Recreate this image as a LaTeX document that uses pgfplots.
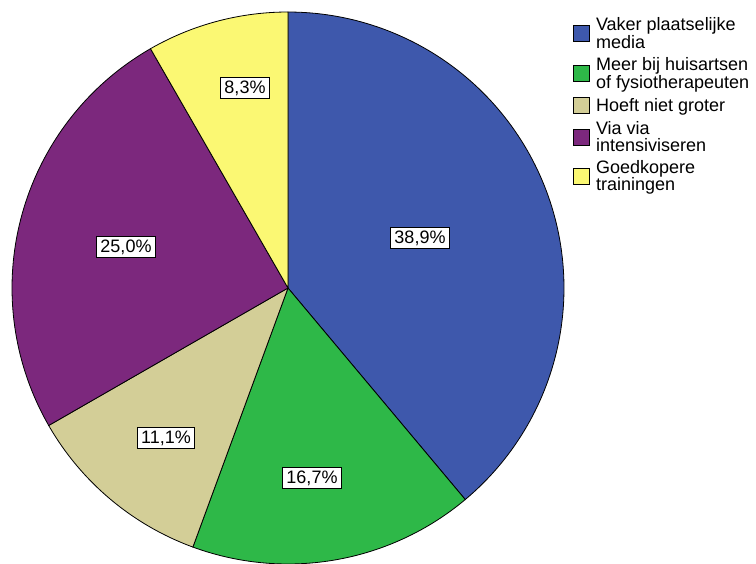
\documentclass[border=0pt]{standalone}
\usepackage{fontspec}
\setmainfont{Liberation Sans}
\usepackage{pgfplots}
\pgfplotsset{compat=1.18}
\definecolor{cBlue}{HTML}{3E58AC}
\definecolor{cGreen}{HTML}{2EB848}
\definecolor{cBeige}{HTML}{D3CE97}
\definecolor{cPurple}{HTML}{7C287D}
\definecolor{cYellow}{HTML}{FBF873}
\begin{document}
\begin{tikzpicture}
\begin{axis}[
  scale only axis, width=756pt, height=563pt,
  xmin=0, xmax=756, ymin=0, ymax=563,
  hide axis, clip=false,
  legend style={at={(axis description cs:0.758,0.969)}, anchor=north west,
    draw=none, fill=none, inner sep=0pt, row sep=7.5pt, column sep=6pt,
    font=\fontsize{18}{16.5}\selectfont,
    nodes={inner sep=0pt, align=left}, cells={anchor=west}},
  legend image code/.code={\draw[#1, line width=0.8pt] (0pt,-8pt) rectangle (16pt,8pt);},
  every axis plot/.append style={draw=black, line width=0.8pt},
]
% percentages: 38.9, 16.7, 11.1, 25.0, 8.3 (clockwise from the top)
\addplot[fill=cBlue, domain=-50.04:90, samples=120, variable=\t]
  ({288+276*cos(\t)},{275+276*sin(\t)}) -- (axis cs:288,275) -- cycle;
\addlegendentry{Vaker plaatselijke\\media}
\addplot[fill=cGreen, domain=-110.16:-50.04, samples=60, variable=\t]
  ({288+276*cos(\t)},{275+276*sin(\t)}) -- (axis cs:288,275) -- cycle;
\addlegendentry{Meer bij huisartsen\\of fysiotherapeuten}
\addplot[fill=cBeige, domain=-150.12:-110.16, samples=40, variable=\t]
  ({288+276*cos(\t)},{275+276*sin(\t)}) -- (axis cs:288,275) -- cycle;
\addlegendentry{Hoeft niet groter}
\addplot[fill=cPurple, domain=-240.12:-150.12, samples=80, variable=\t]
  ({288+276*cos(\t)},{275+276*sin(\t)}) -- (axis cs:288,275) -- cycle;
\addlegendentry{Via via\\intensiviseren}
\addplot[fill=cYellow, domain=-270:-240.12, samples=30, variable=\t]
  ({288+276*cos(\t)},{275+276*sin(\t)}) -- (axis cs:288,275) -- cycle;
\addlegendentry{Goedkopere\\trainingen}
\tikzset{pct/.style={draw=black, fill=white, line width=1pt, inner xsep=4pt, inner ysep=3.5pt, font=\fontsize{18}{20}\selectfont}}
\node[pct] at (axis cs:420,325) {38,9\%};
\node[pct] at (axis cs:312,85) {16,7\%};
\node[pct] at (axis cs:166,125) {11,1\%};
\node[pct] at (axis cs:126,316) {25,0\%};
\node[pct] at (axis cs:245,475) {8,3\%};
\end{axis}
\pgfresetboundingbox
\path (0,0) rectangle (756pt,563pt);
\end{tikzpicture}
\end{document}
